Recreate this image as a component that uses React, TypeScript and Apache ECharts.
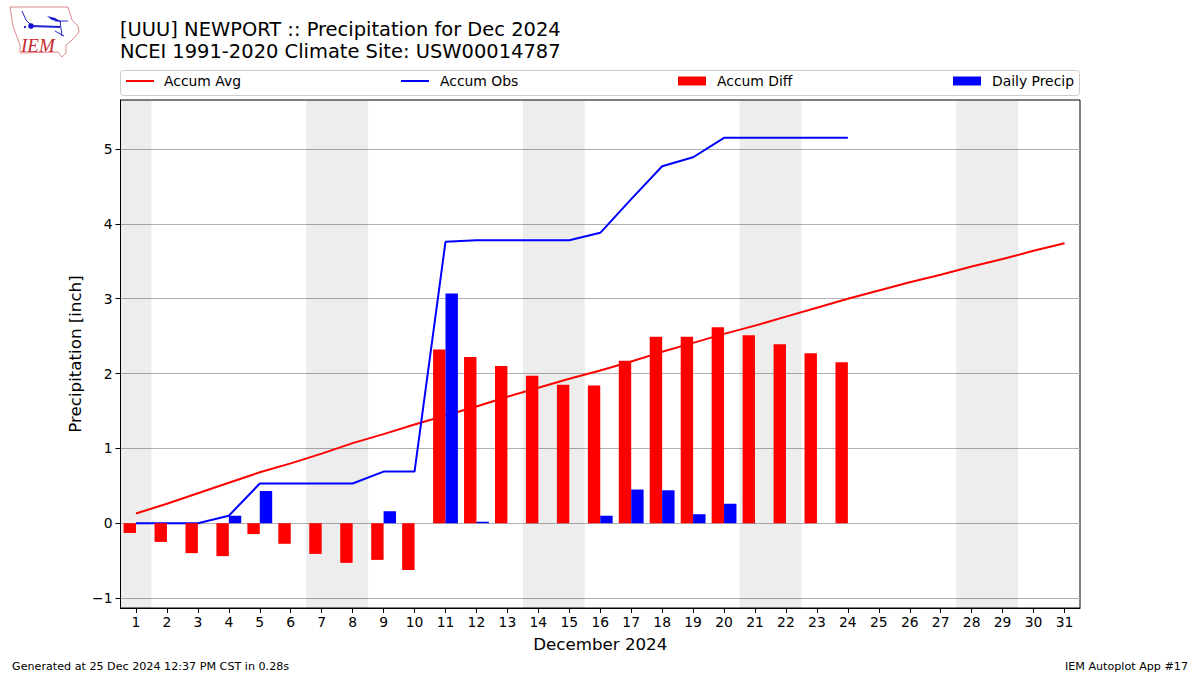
import React, { useEffect, useRef } from "react";
import * as echarts from "echarts";

const days = Array.from({ length: 31 }, (_, i) => String(i + 1));
const weekendSpans = [[1, 1], [7, 8], [14, 15], [21, 22], [28, 29]];
const yTicks = [-1, 0, 1, 2, 3, 4, 5];
const accumAvg = [0.13, 0.26, 0.40, 0.54, 0.68, 0.80, 0.93, 1.07, 1.19, 1.32, 1.44, 1.56, 1.69, 1.81, 1.93, 2.04, 2.16, 2.29, 2.41, 2.53, 2.64, 2.76, 2.88, 3.00, 3.11, 3.22, 3.32, 3.43, 3.53, 3.64, 3.74];
const accumObs = [0, 0, 0, 0.10, 0.53, 0.53, 0.53, 0.53, 0.69, 0.69, 3.76, 3.78, 3.78, 3.78, 3.78, 3.88, 4.33, 4.77, 4.89, 5.15, 5.15, 5.15, 5.15, 5.15];
const accumDiff = [-0.13, -0.25, -0.40, -0.44, -0.145, -0.275, -0.41, -0.53, -0.49, -0.625, 2.32, 2.22, 2.10, 1.97, 1.85, 1.84, 2.17, 2.49, 2.49, 2.62, 2.51, 2.39, 2.27, 2.15];
const dailyPrecip = [0, 0, 0, 0.10, 0.43, 0, 0, 0, 0.16, 0, 3.07, 0.02, 0, 0, 0, 0.10, 0.45, 0.44, 0.12, 0.26, 0, 0, 0, 0];

const FONT = "DejaVu Sans";
const Y_MIN = -1.133;
const Y_MAX = 5.655;
const GRID = { left: 120.5, right: 120, top: 100, bottom: 67 };
const LINE_ICON = "path://M0,36H280V56H0Z";

const blueLine = (points: number[][], lineWidth = 1.5) => ({ type: "polyline", shape: { points }, style: { fill: "none", stroke: "#2222cc", lineWidth } });
const logo = [
  { type: "polygon", shape: { points: [[10, 7], [68, 7], [72, 20], [78, 26], [79, 32], [72, 40], [66, 45], [66, 53], [62, 57], [58, 52], [20, 53], [20, 45], [13, 26]] }, style: { fill: "#fff", stroke: "#e08a90", lineWidth: 1 } },
  blueLine([[22, 11], [26, 20], [31, 25]], 1),
  blueLine([[31, 26], [60, 27]], 2),
  blueLine([[55, 21], [68, 21]], 1),
  blueLine([[60, 21], [62, 36]], 1),
  blueLine([[55, 31], [64, 36]], 1),
  { type: "polygon", shape: { points: [[47, 16], [55, 18], [62, 22], [52, 20]] }, style: { fill: "#1111cc" } },
  { type: "circle", shape: { cx: 31, cy: 26, r: 2.8 }, style: { fill: "#1111cc" } },
  { type: "circle", shape: { cx: 25, cy: 27, r: 1.2 }, style: { fill: "#2222cc" } },
  { type: "text", x: 21, y: 36, style: { text: "IEM", fill: "#c8282d", font: "italic 19px 'Liberation Serif'" } },
];

export default function App() {
  const ref = useRef<HTMLDivElement>(null);
  useEffect(() => {
    document.body.style.margin = "0";
    const chart = echarts.init(ref.current!, undefined, { renderer: "svg" });
    const legendBase = { top: 74, padding: 0, itemWidth: 28, itemHeight: 9, itemGap: 8 };
    const legendText = (gap: number) => ({ fontFamily: FONT, fontSize: 13.9, color: "#000", padding: [0, 0, 0, gap] });
    chart.setOption({
      animation: false,
      backgroundColor: "#fff",
      textStyle: { fontFamily: FONT },
      title: {
        left: 120, top: 18, padding: 0,
        text: "[UUU] NEWPORT :: Precipitation for Dec 2024\nNCEI 1991-2020 Climate Site: USW00014787",
        textStyle: { fontFamily: FONT, fontSize: 19.47, fontWeight: "normal", color: "#000", lineHeight: 22 },
      },
      legend: [
        { ...legendBase, left: 126, textStyle: legendText(5), data: [{ name: "Accum Avg", icon: LINE_ICON, itemStyle: { color: "#ff0000" } }] },
        { ...legendBase, left: 401, textStyle: legendText(6), data: [{ name: "Accum Obs", icon: LINE_ICON, itemStyle: { color: "#0000ff" } }] },
        { ...legendBase, left: 678, textStyle: legendText(6), data: [{ name: "Accum Diff", icon: "rect" }] },
        { ...legendBase, left: 953, textStyle: legendText(6), data: [{ name: "Daily Precip", icon: "rect" }] },
      ],
      grid: { ...GRID, show: true, borderColor: "#000", borderWidth: 1, backgroundColor: "transparent" },
      xAxis: {
        type: "category",
        data: days,
        name: "December 2024",
        nameLocation: "middle",
        nameGap: 28,
        nameMoveOverlap: false,
        nameTextStyle: { fontFamily: FONT, fontSize: 16.67, color: "#000" },
        axisLine: { show: true, onZero: false, lineStyle: { color: "#000", width: 1 } },
        axisTick: { show: true, alignWithLabel: true, length: 5, lineStyle: { color: "#000" } },
        axisLabel: { interval: 0, margin: 7, fontFamily: FONT, fontSize: 13.9, color: "#000" },
        splitLine: { show: false },
      },
      yAxis: {
        type: "value",
        min: Y_MIN,
        max: Y_MAX,
        interval: 1,
        name: "Precipitation [inch]",
        nameLocation: "middle",
        nameGap: 37,
        nameMoveOverlap: false,
        nameTextStyle: { fontFamily: FONT, fontSize: 16.67, color: "#000" },
        axisLine: { show: true, lineStyle: { color: "#000", width: 1 } },
        axisTick: { show: true, length: 5, lineStyle: { color: "#000" }, customValues: yTicks },
        axisLabel: { margin: 8, fontFamily: FONT, fontSize: 13.9, color: "#000", customValues: yTicks, formatter: (v: number) => (v < 0 ? "\u2212" + -v : String(v)) },
        splitLine: { show: true, lineStyle: { color: "#b0b0b0", width: 1 } },
      },
      graphic: [
        { type: "rect", shape: { x: 120.5, y: 70.5, width: 959, height: 25, r: 3 }, style: { fill: "none", stroke: "#cccccc", lineWidth: 1 } },
        { type: "group", children: logo },
        { type: "text", x: 12, y: 661, style: { text: "Generated at 25 Dec 2024 12:37 PM CST in 0.28s", fill: "#000", font: `11.15px '${FONT}'` } },
        { type: "text", x: 1188, y: 661, style: { text: "IEM Autoplot App #17", align: "right", fill: "#000", font: `11.15px '${FONT}'` } },
      ],
      series: [
        {
          name: "Weekend",
          type: "custom",
          data: weekendSpans,
          z: 1,
          silent: true,
          clip: true,
          renderItem: (_: unknown, api: any) => {
            const half = api.size([1, 0])[0] / 2;
            const a = api.coord([api.value(0) - 1, Y_MAX]);
            const b = api.coord([api.value(1) - 1, Y_MIN]);
            return {
              type: "rect",
              shape: { x: a[0] - half, y: a[1], width: b[0] - a[0] + 2 * half, height: b[1] - a[1] },
              style: { fill: "rgba(0,0,0,0.07)" },
            };
          },
        },
        { name: "Accum Avg", type: "line", data: accumAvg, symbol: "none", z: 2, color: "#ff0000", lineStyle: { color: "#ff0000", width: 2 } },
        { name: "Accum Obs", type: "line", data: accumObs, symbol: "none", z: 2, color: "#0000ff", lineStyle: { color: "#0000ff", width: 2 } },
        { name: "Accum Diff", type: "bar", data: accumDiff, barWidth: 12.4, barGap: 0, z: 3, color: "#ff0000" },
        { name: "Daily Precip", type: "bar", data: dailyPrecip, barWidth: 12.4, barGap: 0, z: 3, color: "#0000ff" },
      ],
    });
    return () => chart.dispose();
  }, []);
  return <div ref={ref} style={{ width: 1200, height: 675 }} />;
}
